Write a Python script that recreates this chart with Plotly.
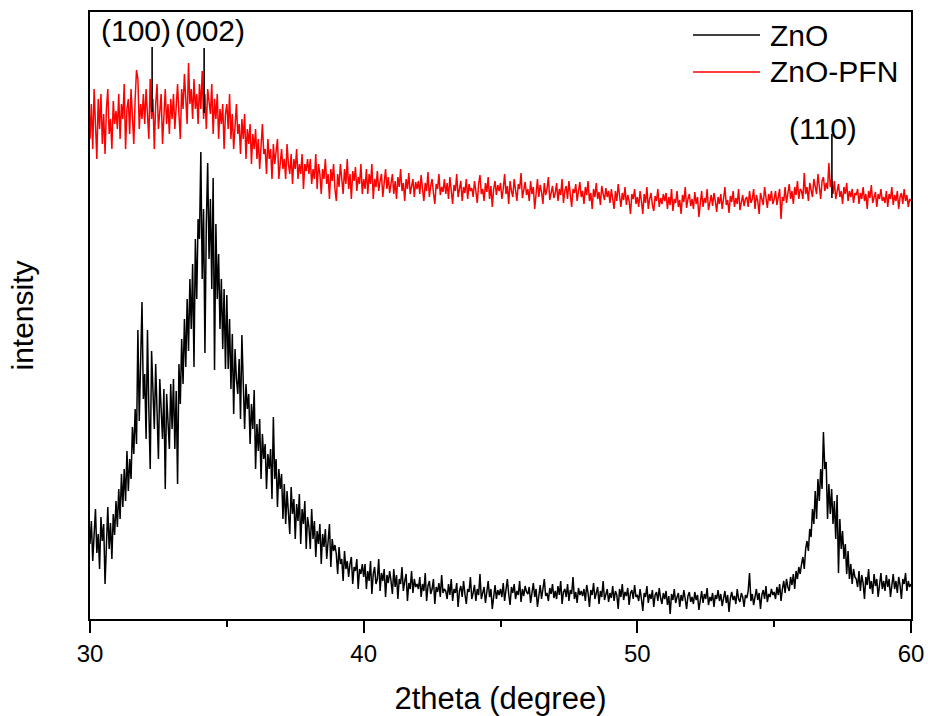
import numpy as np
import plotly.graph_objects as go

# 2theta scan grid (degrees), 0.05 deg step
two_theta = np.round(np.linspace(30.0, 60.0, 601), 2)

# ZnO intensity (a.u.), read row by row, one row per degree (30.00 ... 59.95), last value at 60.00
zno = [
    75, 98, 58, 90, 110, 66, 85, 50, 102, 78, 95, 35, 88, 112, 70, 96, 60, 105, 84, 118,
    92, 130, 100, 145, 112, 150, 118, 168, 128, 160, 140, 192, 165, 210, 175, 289, 198, 250, 317, 220,
    245, 180, 289, 210, 150, 268, 225, 190, 255, 205, 160, 240, 215, 180, 230, 130, 225, 200, 170, 235,
    190, 240, 170, 228, 135, 255, 215, 280, 235, 300, 252, 320, 268, 340, 290, 355, 252, 380, 320, 400,
    380, 467, 340, 410, 266, 395, 456, 360, 420, 330, 441, 249, 395, 320, 365, 290, 340, 270, 330, 250,
    324, 250, 300, 230, 285, 205, 270, 240, 225, 260, 200, 284, 230, 190, 235, 210, 225, 175, 215, 190,
    229, 150, 195, 168, 200, 140, 185, 160, 175, 130, 165, 150, 170, 120, 202, 140, 160, 112, 150, 130,
    145, 100, 135, 95, 128, 110, 85, 132, 105, 120, 80, 115, 98, 125, 75, 110, 95, 118, 70, 102,
    92, 70, 110, 80, 98, 62, 88, 75, 95, 55, 85, 72, 90, 60, 78, 95, 52, 80, 68, 74,
    65, 45, 72, 55, 60, 38, 68, 50, 58, 42, 55, 62, 35, 52, 48, 60, 30, 50, 45, 55,
    42, 55, 30, 48, 38, 58, 25, 45, 52, 35, 40, 60, 28, 46, 38, 50, 22, 44, 36, 48,
    38, 25, 50, 32, 44, 20, 40, 35, 52, 28, 38, 45, 18, 36, 30, 48, 26, 40, 32, 35,
    30, 42, 22, 35, 28, 46, 18, 33, 38, 25, 30, 40, 15, 32, 27, 36, 22, 44, 26, 30,
    28, 20, 35, 24, 40, 18, 30, 26, 36, 12, 28, 33, 22, 38, 25, 15, 30, 27, 42, 20,
    26, 34, 18, 30, 24, 45, 20, 28, 32, 16, 27, 38, 22, 30, 10, 26, 34, 20, 29, 24,
    30, 22, 36, 18, 28, 40, 25, 14, 32, 26, 35, 20, 28, 24, 38, 17, 30, 23, 33, 27,
    25, 32, 16, 28, 36, 22, 30, 12, 27, 34, 20, 29, 40, 23, 26, 18, 31, 25, 35, 21,
    28, 20, 33, 24, 38, 15, 27, 30, 22, 35, 18, 29, 25, 42, 20, 27, 16, 31, 24, 28,
    23, 30, 18, 34, 26, 12, 29, 24, 36, 20, 27, 32, 15, 28, 22, 38, 19, 26, 30, 17,
    26, 21, 33, 18, 28, 24, 10, 30, 22, 35, 19, 27, 23, 31, 14, 26, 29, 20, 34, 22,
    24, 18, 30, 20, 8, 26, 22, 33, 16, 25, 20, 29, 12, 24, 27, 18, 31, 21, 15, 26,
    20, 28, 14, 23, 5, 25, 19, 30, 16, 22, 26, 12, 24, 18, 29, 20, 10, 23, 27, 17,
    22, 15, 27, 19, 24, 9, 21, 28, 16, 25, 20, 31, 14, 22, 18, 26, 12, 24, 20, 29,
    18, 25, 13, 22, 28, 16, 24, 7, 21, 27, 19, 23, 15, 30, 20, 17, 26, 22, 12, 24,
    21, 28, 46, 18, 25, 14, 23, 30, 19, 26, 10, 24, 29, 20, 33, 17, 25, 22, 30, 24,
    27, 20, 32, 24, 35, 18, 30, 38, 26, 40, 32, 28, 42, 34, 45, 30, 48, 40, 52, 45,
    55, 62, 50, 70, 78, 68, 90, 82, 110, 95, 128, 100, 140, 118, 150, 130, 187, 150, 157, 100,
    135, 105, 130, 95, 118, 80, 124, 46, 100, 70, 88, 60, 75, 45, 68, 40, 55, 35, 50, 42,
    40, 32, 48, 28, 44, 36, 20, 42, 34, 50, 30, 38, 25, 45, 33, 40, 22, 36, 46, 30,
    38, 28, 44, 32, 40, 22, 36, 45, 30, 38, 26, 42, 34, 20, 40, 35, 46, 28, 38, 32,
    35,
]

# ZnO-PFN intensity (a.u., offset), same grid
zno_pfn = [
    480, 515, 470, 530, 495, 460, 520, 490, 525, 475, 505, 465, 510, 530, 485, 500, 470, 518, 495, 508,
    490, 525, 480, 515, 500, 535, 470, 510, 520, 485, 530, 495, 475, 520, 549, 540, 490, 515, 500, 525,
    495, 530, 510, 480, 540, 500, 520, 470, 515, 535, 490, 510, 525, 475, 505, 530, 495, 515, 485, 520,
    500, 525, 490, 515, 535, 505, 480, 530, 510, 545, 520, 495, 556, 515, 530, 500, 540, 510, 525, 495,
    535, 510, 548, 500, 525, 490, 530, 515, 505, 535, 485, 520, 500, 525, 480, 510, 495, 515, 470, 505,
    515, 490, 525, 480, 505, 470, 500, 515, 485, 495, 465, 500, 480, 505, 460, 490, 475, 495, 455, 485,
    470, 490, 460, 480, 450, 475, 495, 465, 470, 445, 480, 460, 470, 440, 475, 455, 465, 480, 440, 460,
    470, 450, 460, 440, 475, 455, 445, 465, 435, 460, 450, 470, 440, 455, 445, 465, 430, 455, 448, 460,
    445, 460, 435, 450, 440, 465, 430, 455, 445, 425, 450, 440, 460, 435, 445, 420, 450, 438, 455, 430,
    418, 445, 432, 455, 440, 425, 450, 435, 460, 430, 445, 420, 448, 438, 452, 428, 442, 435, 455, 425,
    440, 430, 450, 425, 445, 435, 455, 420, 440, 432, 448, 428, 438, 445, 422, 436, 450, 430, 442, 426,
    435, 445, 425, 438, 420, 442, 432, 450, 428, 436, 418, 440, 430, 446, 425, 434, 440, 422, 437, 430,
    438, 425, 444, 430, 418, 436, 428, 447, 422, 433, 440, 426, 415, 435, 430, 445, 424, 432, 427, 440,
    425, 436, 420, 442, 430, 415, 434, 428, 445, 422, 430, 438, 418, 432, 426, 440, 420, 435, 428, 431,
    422, 438, 428, 416, 435, 444, 425, 430, 418, 436, 427, 442, 420, 433, 412, 430, 438, 424, 434, 428,
    436, 420, 430, 445, 425, 433, 415, 438, 428, 422, 440, 426, 418, 435, 430, 446, 421, 429, 437, 424,
    430, 418, 438, 425, 432, 410, 428, 440, 422, 434, 427, 415, 436, 424, 430, 442, 419, 428, 433, 421,
    426, 436, 418, 430, 424, 440, 416, 428, 433, 420, 438, 425, 412, 430, 426, 435, 418, 428, 437, 422,
    428, 415, 432, 424, 438, 418, 426, 410, 430, 422, 436, 420, 427, 414, 433, 425, 419, 431, 422, 428,
    416, 430, 422, 410, 428, 418, 435, 420, 412, 426, 419, 432, 414, 424, 418, 405, 425, 420, 430, 415,
    422, 412, 428, 418, 405, 425, 416, 432, 410, 420, 426, 414, 408, 423, 418, 430, 412, 421, 415, 425,
    418, 426, 410, 422, 414, 430, 408, 420, 416, 428, 412, 419, 405, 424, 417, 432, 411, 420, 425, 413,
    420, 410, 427, 415, 422, 402, 418, 428, 412, 421, 416, 430, 409, 419, 424, 413, 426, 418, 407, 422,
    415, 425, 410, 420, 432, 414, 419, 406, 423, 417, 428, 412, 421, 415, 430, 409, 418, 424, 413, 420,
    422, 412, 428, 416, 420, 430, 410, 424, 418, 405, 426, 419, 414, 432, 420, 411, 425, 418, 428, 415,
    420, 428, 414, 424, 430, 400, 422, 418, 432, 416, 425, 435, 420, 428, 415, 432, 424, 438, 420, 430,
    428, 420, 446, 425, 432, 418, 436, 428, 422, 440, 430, 425, 445, 432, 420, 438, 442, 428, 436, 430,
    456, 432, 440, 425, 438, 420, 430, 435, 422, 428, 415, 432, 425, 436, 418, 428, 422, 430, 416, 426,
    424, 430, 415, 426, 420, 432, 418, 425, 410, 428, 421, 434, 416, 423, 427, 412, 425, 420, 430, 418,
    422, 416, 428, 412, 425, 420, 432, 414, 424, 418, 428, 410, 422, 426, 415, 430, 418, 424, 412, 420,
    418,
]

series_names = ["ZnO", "ZnO-PFN"]
series_colors = ["#000000", "#ff0000"]

# peak labels: (label, 2theta of marker line, line bottom, line top, text x, text y)
peak_labels = ["(100)", "(002)", "(110)"]
peak_pos = [32.27, 34.17, 57.11]
peak_line_lo = [507, 506, 421]
peak_line_hi = [572, 571, 485]
peak_text_x = [31.69, 34.40, 56.77]
peak_text_y = [589, 589, 491]

x_ticks = [30, 40, 50, 60]

FONT = "Liberation Sans, Arial, sans-serif"

fig = go.Figure()
for name, ys, col in zip(series_names, [zno, zno_pfn], series_colors):
    fig.add_trace(go.Scatter(x=two_theta, y=ys, mode="lines", name=name,
                             line=dict(color=col, width=1.5), showlegend=False))

for lab, px, lo, hi, tx, ty in zip(peak_labels, peak_pos, peak_line_lo, peak_line_hi,
                                     peak_text_x, peak_text_y):
    fig.add_shape(type="line", xref="x", yref="y", x0=px, x1=px, y0=lo, y1=hi,
                  line=dict(color="black", width=1.6))
    fig.add_annotation(x=tx, y=ty, xref="x", yref="y", text=lab, showarrow=False,
                       font=dict(family=FONT, size=30, color="black"),
                       xanchor="center", yanchor="middle")

# legend drawn by hand to match the long line samples
leg_y = [0.9621, 0.9012]
for name, col, ly in zip(series_names, series_colors, leg_y):
    fig.add_shape(type="line", xref="paper", yref="paper", x0=0.7345, x1=0.8161,
                  y0=ly, y1=ly, line=dict(color=col, width=1.4))
    fig.add_annotation(x=0.8258, y=ly, xref="paper", yref="paper", text=name,
                       showarrow=False, xanchor="left", yanchor="middle",
                       font=dict(family=FONT, size=30, color="black"))

fig.update_layout(
    width=928, height=716,
    margin=dict(l=90, r=17, t=12, b=97),
    paper_bgcolor="white", plot_bgcolor="white",
    font=dict(family=FONT, color="black"),
    xaxis=dict(range=[30, 60], tickvals=x_ticks, ticks="outside", ticklen=12,
               tickwidth=1.5, tickcolor="black", showline=True, linecolor="black",
               linewidth=1.6, mirror=True, showgrid=False, zeroline=False,
               automargin=False,
               tickfont=dict(size=24, family=FONT),
               minor=dict(ticks="outside", ticklen=6, dtick=5, tick0=30,
                          tickwidth=1.5, tickcolor="black", showgrid=False),
               title=dict(text="2theta (degree)", font=dict(size=31, family=FONT),
                          standoff=22)),
    yaxis=dict(range=[0, 607], showticklabels=False, ticks="", showline=True,
               linecolor="black", linewidth=1.6, mirror=True, showgrid=False,
               zeroline=False, automargin=False,
               title=dict(text="intensity", font=dict(size=30, family=FONT),
                          standoff=46)),
)

# remove the page's default body margin so the 928x716 figure fills the window exactly
fig.write_html("out.html",
               config={"displayModeBar": False},
               post_script="document.body.style.margin='0';document.body.style.overflow='hidden';")
